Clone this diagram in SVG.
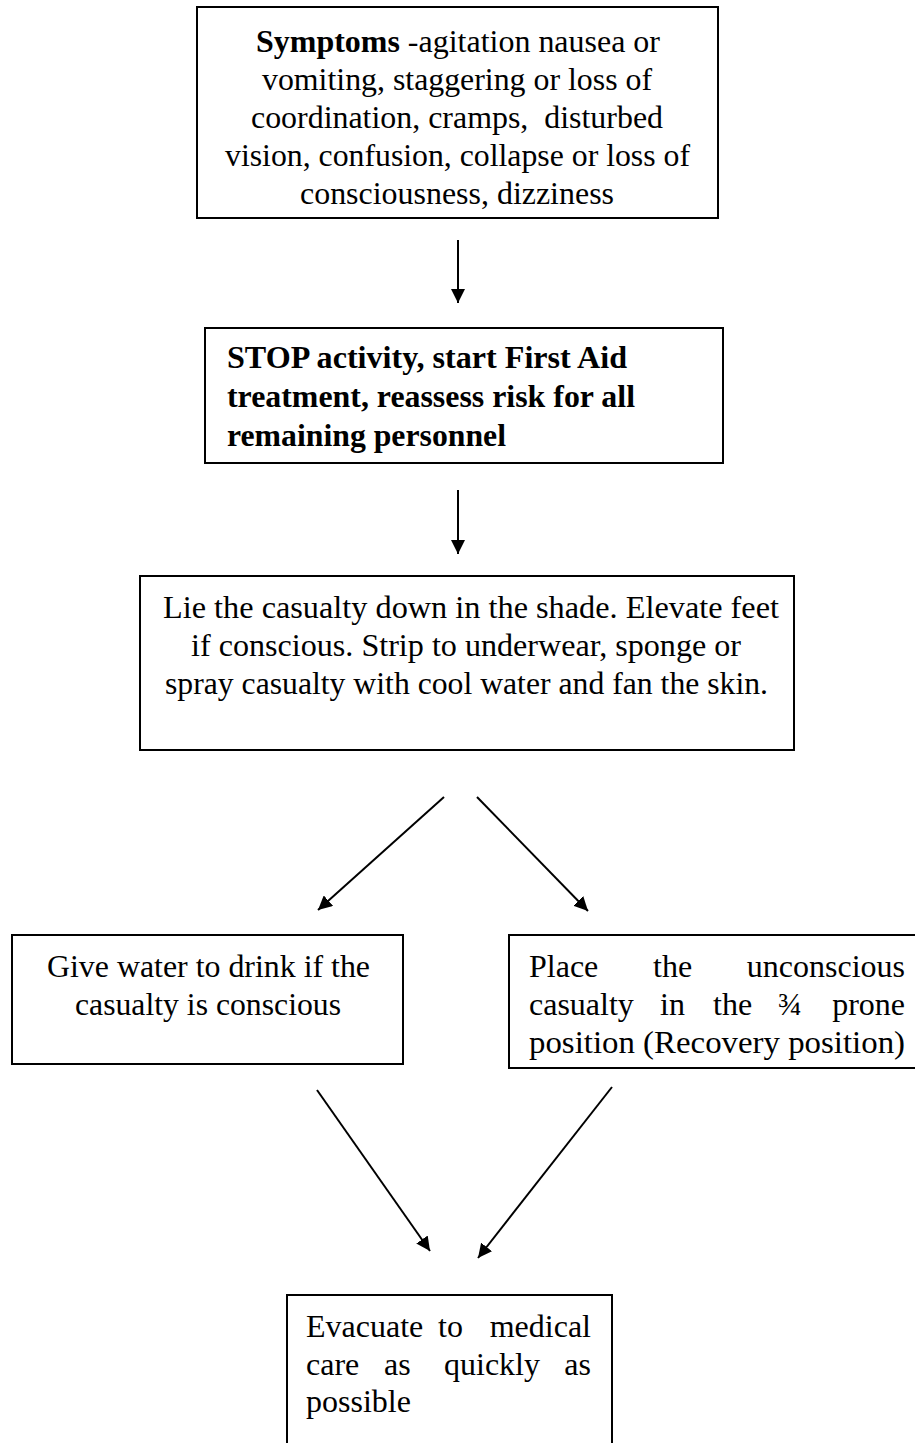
<svg xmlns="http://www.w3.org/2000/svg" width="915" height="1443" viewBox="0 0 915 1443">
<defs>
<marker id="ah" viewBox="0 0 10 10" refX="10" refY="5" markerWidth="7" markerHeight="7" markerUnits="strokeWidth" orient="auto">
<path d="M0,0 L10,5 L0,10 Z" fill="#000"/>
</marker>
<style>
.box{fill:#fff;stroke:#000;stroke-width:2}
.t{font-family:"Liberation Serif","Times New Roman",serif;font-size:32px;fill:#000}
.c{text-anchor:middle}
.b{font-weight:bold}
.e{text-anchor:end}
.ln{stroke:#000;stroke-width:2;fill:none;marker-end:url(#ah)}
</style>
</defs>
<rect width="915" height="1443" fill="#fff"/>
<g id="n1">
<rect class="box" x="197" y="7" width="521" height="211"/>
<text class="t" x="256" y="52" textLength="404" lengthAdjust="spacingAndGlyphs"><tspan class="b">Symptoms</tspan> -agitation nausea or</text>
<text class="t" x="262" y="90" textLength="390" lengthAdjust="spacingAndGlyphs">vomiting, staggering or loss of</text>
<text class="t" x="251" y="128" textLength="412" lengthAdjust="spacingAndGlyphs" xml:space="preserve">coordination, cramps,  disturbed</text>
<text class="t" x="225" y="166" textLength="465" lengthAdjust="spacingAndGlyphs">vision, confusion, collapse or loss of</text>
<text class="t" x="300" y="204" textLength="314" lengthAdjust="spacingAndGlyphs">consciousness, dizziness</text>
</g>
<g id="n2">
<rect class="box" x="205" y="328" width="518" height="135"/>
<text class="t b" x="227" y="368" textLength="400" lengthAdjust="spacingAndGlyphs">STOP activity, start First Aid</text>
<text class="t b" x="227" y="407" textLength="408" lengthAdjust="spacingAndGlyphs">treatment, reassess risk for all</text>
<text class="t b" x="227" y="446" textLength="279" lengthAdjust="spacingAndGlyphs">remaining personnel</text>
</g>
<g id="n3">
<rect class="box" x="140" y="576" width="654" height="174"/>
<text class="t" x="163" y="618" textLength="616" lengthAdjust="spacingAndGlyphs">Lie the casualty down in the shade. Elevate feet</text>
<text class="t" x="191" y="656" textLength="550" lengthAdjust="spacingAndGlyphs">if conscious. Strip to underwear, sponge or</text>
<text class="t" x="165" y="694" textLength="603" lengthAdjust="spacingAndGlyphs">spray casualty with cool water and fan the skin.</text>
</g>
<g id="n4">
<rect class="box" x="12" y="935" width="391" height="129"/>
<text class="t" x="47" y="977" textLength="323" lengthAdjust="spacingAndGlyphs">Give water to drink if the</text>
<text class="t" x="75" y="1015" textLength="266" lengthAdjust="spacingAndGlyphs">casualty is conscious</text>
</g>
<g id="n5">
<rect class="box" x="509" y="935" width="420" height="133"/>
<text class="t" x="529" y="977">Place</text>
<text class="t" x="653" y="977">the</text>
<text class="t e" x="905" y="977">unconscious</text>
<text class="t" x="529" y="1015">casualty</text>
<text class="t" x="660" y="1015">in</text>
<text class="t" x="713" y="1015">the</text>
<text class="t" x="778" y="1015">¾</text>
<text class="t e" x="905" y="1015">prone</text>
<text class="t" x="529" y="1053" textLength="376" lengthAdjust="spacingAndGlyphs">position (Recovery position)</text>
</g>
<g id="n6">
<rect class="box" x="287" y="1295" width="325" height="160"/>
<text class="t" x="306" y="1337">Evacuate</text>
<text class="t" x="438" y="1337">to</text>
<text class="t e" x="591" y="1337">medical</text>
<text class="t" x="306" y="1375">care</text>
<text class="t" x="384" y="1375">as</text>
<text class="t" x="444" y="1375">quickly</text>
<text class="t e" x="591" y="1375">as</text>
<text class="t" x="306" y="1412">possible</text>
</g>
<g id="connectors">
<line class="ln" x1="458" y1="240" x2="458" y2="303"/>
<line class="ln" x1="458" y1="490" x2="458" y2="554"/>
<line class="ln" x1="444" y1="797" x2="318" y2="910"/>
<line class="ln" x1="477" y1="797" x2="588" y2="911"/>
<line class="ln" x1="317" y1="1090" x2="430" y2="1251"/>
<line class="ln" x1="612" y1="1087" x2="478" y2="1258"/>
</g>
</svg>
